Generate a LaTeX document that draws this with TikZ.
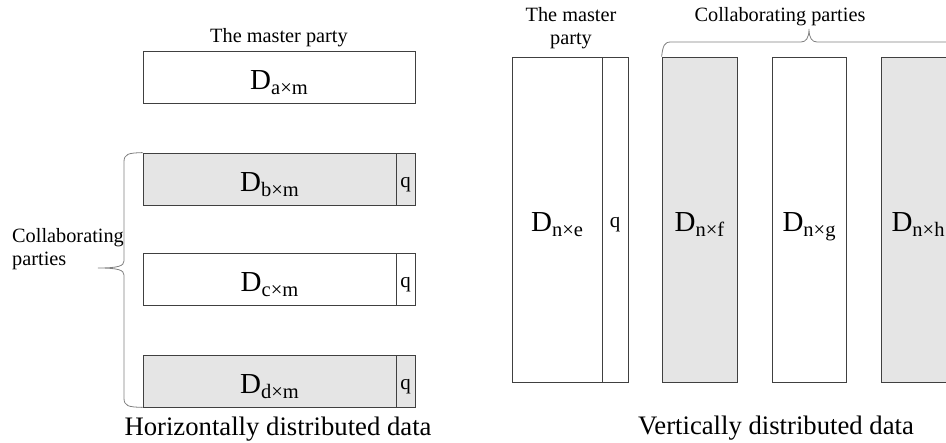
\documentclass[tikz,border=0pt]{standalone}
\usepackage{fontspec}
\setmainfont{Liberation Serif}
\begin{document}
\begin{tikzpicture}[x=1pt,y=-1pt,
  cell/.style={draw=black!75, line width=0.8pt, inner sep=0pt, rectangle},
  shaded/.style={fill=black!10},
  dlab/.style={inner sep=0pt, anchor=base, font=\fontsize{29}{30}\selectfont},
  qlab/.style={inner sep=0pt, anchor=base, font=\fontsize{21}{22}\selectfont},
  note/.style={inner sep=0pt, font=\fontsize{20.3}{23}\selectfont},
  caption/.style={inner sep=0pt, anchor=base, font=\fontsize{26.7}{28}\selectfont},
  brace/.style={draw=black!50, line width=0.8pt}]
\useasboundingbox (0,0) rectangle (946,443);
\clip (0,0) rectangle (946,443);
\newcommand{\dsub}[1]{D\raisebox{-5pt}{\fontsize{20.5}{21}\selectfont #1}}

% ---------- horizontal partition ----------
\node[cell, minimum width=272pt, minimum height=52pt] (a) at (279,77) {};
\node[cell, shaded, minimum width=253pt, minimum height=52pt] (b) at (269.5,179) {};
\node[cell, shaded, minimum width=19pt, minimum height=52pt] (bq) at (405.5,179) {};
\node[cell, minimum width=253pt, minimum height=52pt] (c) at (269.5,279) {};
\node[cell, minimum width=19pt, minimum height=52pt] (cq) at (405.5,279) {};
\node[cell, shaded, minimum width=253pt, minimum height=52pt] (d) at (269.5,381) {};
\node[cell, shaded, minimum width=19pt, minimum height=52pt] (dq) at (405.5,381) {};

\node[dlab] (la) at ([yshift=-12.5pt]a.center) {\dsub{a×m}};
\node[dlab] (lb) at ([yshift=-12.5pt]b.center) {\dsub{b×m}};
\node[dlab] (lc) at ([yshift=-12.5pt]c.center) {\dsub{c×m}};
\node[dlab] (ld) at ([yshift=-12.5pt]d.center) {\dsub{d×m}};
\node[qlab] (qb) at ([yshift=-9pt]bq.center) {q};
\node[qlab] (qc) at ([yshift=-9pt]cq.center) {q};
\node[qlab] (qd) at ([yshift=-9pt]dq.center) {q};

\node[note, anchor=base] (hmaster) at ([yshift=8pt]a.north) {The master party};
\node[note, anchor=base west, align=left] (hcollab) at (12,266) {Collaborating\\parties};

% left brace grouping the collaborating parties
\coordinate (htip) at (98,268);
\draw[brace] (b.north west) .. controls (128,153) and (124,154) .. (124,162)
  -- (124,261) .. controls (124,266) and (118,268) .. (htip)
  .. controls (118,268) and (124,270) .. (124,275)
  -- (124,398) .. controls (124,406) and (128,407) .. (d.south west);

\node[caption] (hcap) at (278,436) {Horizontally distributed data};

% ---------- vertical partition ----------
\node[cell, minimum width=90pt, minimum height=325pt] (e) at (557,219.5) {};
\node[cell, minimum width=26pt, minimum height=325pt] (eq) at (615,219.5) {};
\node[cell, shaded, minimum width=75pt, minimum height=325pt] (f) at (699.5,219.5) {};
\node[cell, minimum width=74pt, minimum height=325pt] (g) at (809,219.5) {};
\node[cell, shaded, minimum width=74pt, minimum height=325pt] (h) at (918,219.5) {};

\node[dlab] (le) at ([yshift=-12.5pt]e.center) {\dsub{n×e}};
\node[qlab] (qe) at ([yshift=-8.5pt]eq.center) {q};
\node[dlab] (lf) at ([yshift=-12.5pt]f.center) {\dsub{n×f}};
\node[dlab] (lg) at ([yshift=-12.5pt]g.center) {\dsub{n×g}};
\node[dlab] (lh) at ([yshift=-12.5pt]h.center) {\dsub{n×h}};

\node[note, anchor=base, align=center] (vmaster) at (571,45) {The master\\party};
\node[note, anchor=base] (vcollab) at (780,22) {Collaborating parties};

% top brace grouping the collaborating parties
\coordinate (vtip) at (809,29);
\draw[brace] (f.north west) .. controls (663,46) and (664,42) .. (671,42)
  -- (801,42) .. controls (806,42) and (809,38) .. (vtip)
  .. controls (809,38) and (812,42) .. (817,42)
  -- (947,42) .. controls (954,42) and (955,46) .. (h.north east);

\node[caption] (vcap) at (776,435) {Vertically distributed data};
\end{tikzpicture}
\end{document}
